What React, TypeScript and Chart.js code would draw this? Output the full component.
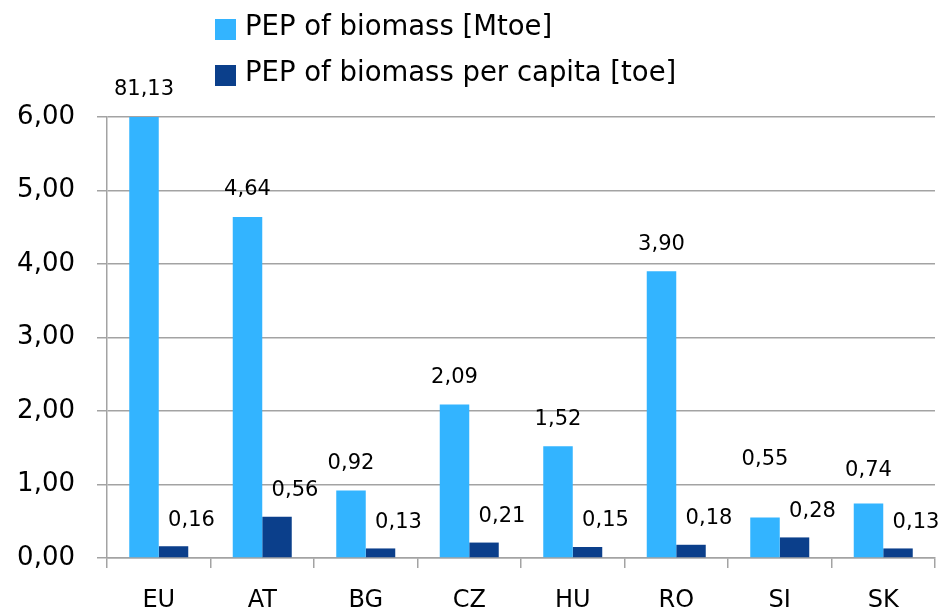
import React, { useEffect, useRef } from "react";
import { Chart, registerables } from "chart.js";

Chart.register(...registerables);

const categories = ["EU", "AT", "BG", "CZ", "HU", "RO", "SI", "SK"];
const pepMtoe = [81.13, 4.64, 0.92, 2.09, 1.52, 3.9, 0.55, 0.74];
const pepPerCapita = [0.16, 0.56, 0.13, 0.21, 0.15, 0.18, 0.28, 0.13];
const seriesNames = ["PEP of biomass [Mtoe]", "PEP of biomass per capita [toe]"];
const yTicks = [0, 1, 2, 3, 4, 5, 6];

const LIGHT = "#33b4ff";
const DARK = "#0b3f8b";
const GRID = "#a3a3a3";
const FONT = "DejaVu Sans";

const fmt = (v: number) => v.toFixed(2).replace(".", ",");

const labelPlugin = {
  id: "barLabels",
  afterDatasetsDraw(chart: any) {
    const ctx = chart.ctx;
    const area = chart.chartArea;
    ctx.save();
    ctx.font = `21px "${FONT}"`;
    ctx.fillStyle = "#000";
    ctx.textAlign = "center";
    ctx.textBaseline = "middle";
    const m0 = chart.getDatasetMeta(0);
    const m1 = chart.getDatasetMeta(1);
    categories.forEach((_, i) => {
      const e1 = m1.data[i];
      const darkY = Math.max(e1.y, area.top) - 26;
      ctx.fillText(fmt(pepPerCapita[i]), e1.x + 18, darkY);
      const e0 = m0.data[i];
      let lightY = Math.max(e0.y, area.top) - 27;
      lightY = Math.min(lightY, darkY - 52);
      ctx.fillText(fmt(pepMtoe[i]), e0.x, lightY);
    });
    ctx.restore();
  },
};

const legendPlugin = {
  id: "customLegend",
  afterDraw(chart: any) {
    const ctx = chart.ctx;
    ctx.save();
    ctx.font = `27.5px "${FONT}"`;
    ctx.textAlign = "left";
    ctx.textBaseline = "alphabetic";
    chart.data.datasets.forEach((ds: any, i: number) => {
      const top = 19 + i * 46;
      ctx.fillStyle = ds.backgroundColor;
      ctx.fillRect(215, top, 21, 21);
      ctx.fillStyle = "#000";
      ctx.fillText(ds.label, 245, top + 16);
    });
    ctx.restore();
  },
};

export default function App() {
  const ref = useRef<HTMLCanvasElement>(null);
  useEffect(() => {
    document.body.style.margin = "0";
    const chart = new Chart(ref.current!, {
      type: "bar",
      data: {
        labels: categories,
        datasets: [
          {
            label: seriesNames[0],
            data: pepMtoe,
            backgroundColor: LIGHT,
            categoryPercentage: 0.57,
            barPercentage: 1,
            clip: 0,
          },
          {
            label: seriesNames[1],
            data: pepPerCapita,
            backgroundColor: DARK,
            categoryPercentage: 0.57,
            barPercentage: 1,
            clip: 0,
          },
        ],
      },
      options: {
        animation: false,
        responsive: false,
        devicePixelRatio: 1,
        layout: { padding: { top: 117, right: 11, left: 0, bottom: 0 } },
        plugins: { legend: { display: false }, tooltip: { enabled: false } },
        scales: {
          x: {
            grid: {
              display: true,
              drawOnChartArea: false,
              drawTicks: true,
              tickLength: 10,
              offset: true,
              color: GRID,
              lineWidth: 1.5,
            },
            border: { display: true, color: GRID, width: 1.5 },
            ticks: { font: { family: FONT, size: 24 }, color: "#000", padding: 18 },
            afterFit: (s: any) => {
              s.height = 53;
            },
          },
          y: {
            min: yTicks[0],
            max: yTicks[yTicks.length - 1],
            afterBuildTicks: (s: any) => {
              s.ticks = yTicks.map((v) => ({ value: v }));
            },
            grid: { color: GRID, lineWidth: 1.5, tickLength: 10 },
            border: { display: true, color: GRID, width: 1.5 },
            ticks: {
              font: { family: FONT, size: 26 },
              color: "#000",
              padding: 22,
              callback: (v: any) => fmt(Number(v)),
            },
            afterFit: (s: any) => {
              s.width = 107;
            },
          },
        },
      },
      plugins: [labelPlugin, legendPlugin],
    });
    return () => chart.destroy();
  }, []);
  return <canvas ref={ref} width={946} height={611} style={{ display: "block" }} />;
}
